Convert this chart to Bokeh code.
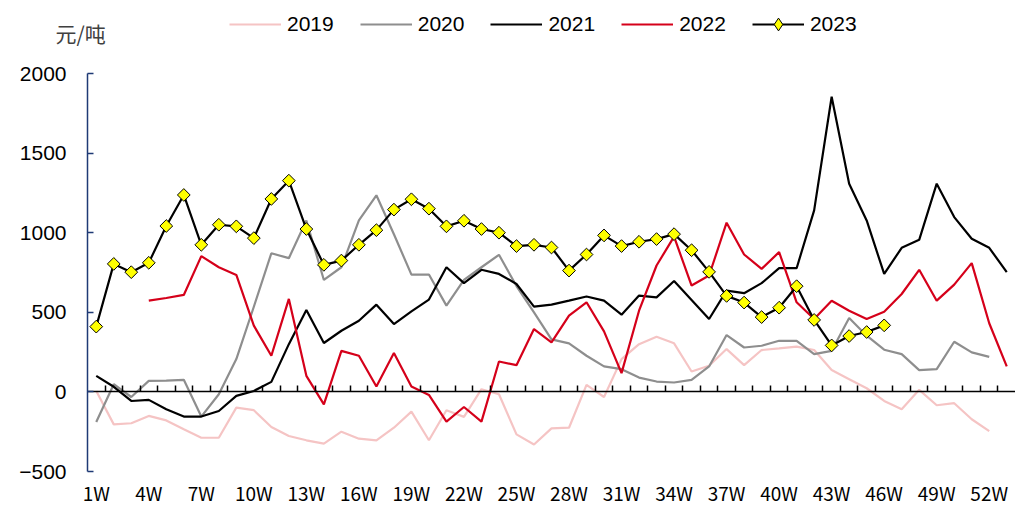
import numpy as np
from bokeh.plotting import figure
from bokeh.models import (Range1d, FixedTicker, LinearAxis, Legend, LegendItem, Label)
from bokeh.embed import file_html
from bokeh.resources import INLINE

weeks = list(range(1, 54))
tick_weeks = list(range(1, 53, 3))
tick_labels = {w: f"{w}W" for w in tick_weeks}
y_ticks = [-500, 0, 500, 1000, 1500, 2000]

y2019 = [6, -204, -197, -151, -179, -235, -288, -288, -99, -115, -220, -277, -304, -325,
         -250, -294, -304, -225, -124, -304, -115, -157, 17, -15, -267, -330, -229, -225,
         44, -32, 206, 300, 347, 305, 128, 164, 269, 168, 263, 273, 284, 263, 137, 80, 23,
         -57, -109, 13, -84, -71, -172, -246]
y2020 = [-189, 48, -32, 69, 71, 76, -155, -15, 206, 535, 871, 840, 1077, 703, 783, 1077,
         1235, 990, 737, 737, 542, 703, 783, 861, 665, 500, 330, 305, 227, 160, 143, 90, 65,
         59, 76, 160, 357, 279, 290, 321, 321, 237, 258, 464, 353, 265, 237, 137, 143, 315,
         248, 220]
y2021 = [101, 32, -57, -50, -109, -155, -155, -120, -25, 6, 63, 300, 515, 307, 384, 447,
         548, 426, 506, 580, 783, 683, 767, 741, 678, 536, 548, 573, 599, 573, 485, 605, 594,
         697, 578, 458, 636, 620, 683, 777, 777, 1140, 1854, 1308, 1077, 741, 905, 955, 1308,
         1098, 962, 905, 752]
y2022 = [np.nan, np.nan, np.nan, 573, 590, 609, 853, 783, 735, 416, 227, 584, 101, -78, 258,
         227, 34, 244, 34, -19, -187, -95, -187, 191, 168, 395, 311, 479, 563, 380, 118, 510,
         794, 975, 668, 731, 1063, 863, 773, 878, 563, 458, 573, 510, 458, 504, 615, 767, 573,
         674, 809, 431, 160]
y2023 = [410, 804, 752, 811, 1042, 1237, 924, 1050, 1040, 966, 1212, 1327, 1023, 798, 825,
         924, 1016, 1145, 1210, 1151, 1040, 1075, 1023, 1000, 916, 924, 907, 762, 863, 983,
         916, 943, 960, 991, 890, 754, 603, 561, 470, 529, 664, 452, 292, 351, 376, 418]

C2019 = "#F5C4C4"
C2020 = "#8E8E8E"
C2021 = "#000000"
C2022 = "#D5001A"
NAVY = "#1F3A75"
FONT = "Liberation Sans"

W, H = 1015, 507
# plot area of the chart inside the canvas (pixels)
AX_LEFT, AX_TOP, AX_BOTTOM = 87, 73, 471
px_per_week = (W - AX_LEFT) / 53.0
px_per_unit = (AX_BOTTOM - AX_TOP) / (y_ticks[-1] - y_ticks[0])
x0 = 0.5 - AX_LEFT / px_per_week
y0 = y_ticks[0] - (H - AX_BOTTOM) / px_per_unit
y1 = y_ticks[-1] + AX_TOP / px_per_unit

p = figure(frame_width=W, frame_height=H, output_backend="svg", toolbar_location=None,
           x_range=Range1d(x0, 53.5), y_range=Range1d(y0, y1),
           min_border=0, x_axis_location=None, y_axis_location=None)
p.outline_line_color = None
p.xgrid.visible = False
p.ygrid.visible = False
p.background_fill_color = "white"
p.border_fill_color = "white"

# y axis
yax = LinearAxis(ticker=FixedTicker(ticks=y_ticks), fixed_location=0.5,
                 bounds=(y_ticks[0], y_ticks[-1]))
yax.axis_line_color = NAVY
yax.axis_line_width = 1.5
yax.major_tick_line_color = NAVY
yax.major_tick_line_width = 1.5
yax.major_tick_in = 6
yax.major_tick_out = 0
yax.minor_tick_line_color = None
yax.major_label_standoff = 21
yax.major_label_text_font = FONT
yax.major_label_text_font_size = "21px"
yax.major_label_text_color = "#000000"
p.add_layout(yax, "left")

# bottom labels axis
xlab = LinearAxis(ticker=FixedTicker(ticks=tick_weeks), major_label_overrides=tick_labels,
                  fixed_location=y_ticks[0])
xlab.axis_line_color = None
xlab.major_tick_line_color = None
xlab.minor_tick_line_color = None
xlab.major_tick_in = 0
xlab.major_tick_out = 0
xlab.major_label_standoff = 7
xlab.major_label_text_font = "Noto Sans CJK SC"
xlab.major_label_text_font_size = "19px"
xlab.major_label_text_color = "#000000"
p.add_layout(xlab, "below")

# zero line axis with ticks between weeks
xzero = LinearAxis(ticker=FixedTicker(ticks=[w + 0.5 for w in weeks[:-1]]), fixed_location=0,
                   bounds=(0.5, 53.5))
xzero.axis_line_color = "#000000"
xzero.axis_line_width = 1.5
xzero.major_tick_line_color = "#000000"
xzero.major_tick_line_width = 1.5
xzero.major_tick_in = 0
xzero.major_tick_out = 6
xzero.minor_tick_line_color = None
xzero.major_label_overrides = {w + 0.5: "" for w in weeks[:-1]}
xzero.major_label_standoff = 0
p.add_layout(xzero, "above")

r19 = p.line(weeks[:52], y2019, line_color=C2019, line_width=2.2)
r20 = p.line(weeks[:52], y2020, line_color=C2020, line_width=2.2)
r21 = p.line(weeks, y2021, line_color=C2021, line_width=2.2)
r22 = p.line(weeks, y2022, line_color=C2022, line_width=2.2)
r23l = p.line(weeks[:46], y2023, line_color="#000000", line_width=2.2)
r23m = p.scatter(weeks[:46], y2023, marker="square", angle=np.pi / 4, size=9,
                 fill_color="#FFFF00", line_color="#000000", line_width=1)
# legend-only diamond marker (placeholder point, not shown in the plot)
r23k = p.scatter(x=[np.nan], y=[np.nan], marker="diamond", fill_color="#FFFF00",
                 line_color="#000000", line_width=1)

legend = Legend(items=[
    LegendItem(label="2019", renderers=[r19]),
    LegendItem(label="2020", renderers=[r20]),
    LegendItem(label="2021", renderers=[r21]),
    LegendItem(label="2022", renderers=[r22]),
    LegendItem(label="2023", renderers=[r23l, r23k]),
], orientation="horizontal", location=(229, H - 8 - 32))
legend.border_line_color = None
legend.background_fill_alpha = 0
legend.padding = 0
legend.margin = 0
legend.spacing = 26
legend.glyph_width = 52
legend.glyph_height = 32
legend.label_standoff = 6
legend.label_text_font = FONT
legend.label_text_font_size = "21px"
legend.label_text_color = "#000000"
p.add_layout(legend, "center")

unit = Label(x=55, y=H - 32, x_units="screen", y_units="screen", text="元/吨",
             text_baseline="middle",
             text_font="Noto Sans CJK SC", text_font_size="21px", text_color="#404040")
p.add_layout(unit)

open("out.html", "w").write(file_html(p, INLINE))
